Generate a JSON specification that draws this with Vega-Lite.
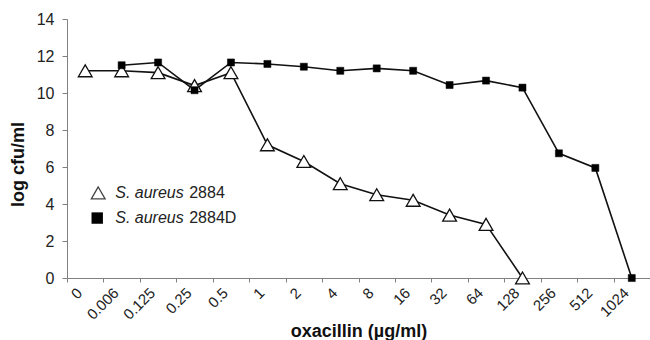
{
  "$schema": "https://vega.github.io/schema/vega-lite/v6.json",
  "autosize": "none",
  "width": 583,
  "height": 259,
  "padding": {"left": 67, "top": 19, "right": 0, "bottom": 62},
  "background": "white",
  "config": {
    "view": {"stroke": null},
    "font": "Liberation Sans",
    "axis": {"domainColor": "#808080", "tickColor": "#808080", "labelColor": "#222", "titleColor": "#111", "grid": false, "labelFont": "Liberation Sans", "titleFont": "Liberation Sans"}
  },
  "datasets": {
    "main": [
      {"conc": "0", "strain": "S. aureus 2884", "v": 11.2},
      {"conc": "0.006", "strain": "S. aureus 2884", "v": 11.2},
      {"conc": "0.125", "strain": "S. aureus 2884", "v": 11.1},
      {"conc": "0.25", "strain": "S. aureus 2884", "v": 10.4},
      {"conc": "0.5", "strain": "S. aureus 2884", "v": 11.1},
      {"conc": "1", "strain": "S. aureus 2884", "v": 7.2},
      {"conc": "2", "strain": "S. aureus 2884", "v": 6.3},
      {"conc": "4", "strain": "S. aureus 2884", "v": 5.1},
      {"conc": "8", "strain": "S. aureus 2884", "v": 4.5},
      {"conc": "16", "strain": "S. aureus 2884", "v": 4.2},
      {"conc": "32", "strain": "S. aureus 2884", "v": 3.4},
      {"conc": "64", "strain": "S. aureus 2884", "v": 2.9},
      {"conc": "128", "strain": "S. aureus 2884", "v": 0},
      {"conc": "0.006", "strain": "S. aureus 2884D", "v": 11.5},
      {"conc": "0.125", "strain": "S. aureus 2884D", "v": 11.65},
      {"conc": "0.25", "strain": "S. aureus 2884D", "v": 10.15},
      {"conc": "0.5", "strain": "S. aureus 2884D", "v": 11.65},
      {"conc": "1", "strain": "S. aureus 2884D", "v": 11.57},
      {"conc": "2", "strain": "S. aureus 2884D", "v": 11.42},
      {"conc": "4", "strain": "S. aureus 2884D", "v": 11.2},
      {"conc": "8", "strain": "S. aureus 2884D", "v": 11.33},
      {"conc": "16", "strain": "S. aureus 2884D", "v": 11.2},
      {"conc": "32", "strain": "S. aureus 2884D", "v": 10.43},
      {"conc": "64", "strain": "S. aureus 2884D", "v": 10.67},
      {"conc": "128", "strain": "S. aureus 2884D", "v": 10.29},
      {"conc": "256", "strain": "S. aureus 2884D", "v": 6.74},
      {"conc": "512", "strain": "S. aureus 2884D", "v": 5.95},
      {"conc": "1024", "strain": "S. aureus 2884D", "v": 0}
    ],
    "legend": [
      {"conc": "0", "v": 4.6, "sym": "tri", "name": "S. aureus", "num": "2884"},
      {"conc": "0", "v": 3.24, "sym": "sq", "name": "S. aureus", "num": "2884D"}
    ]
  },
  "encoding": {
    "x": {
      "field": "conc", "type": "nominal",
      "scale": {"domain": ["0","0.006","0.125","0.25","0.5","1","2","4","8","16","32","64","128","256","512","1024"], "paddingInner": 0, "paddingOuter": 0},
      "axis": {"title": "oxacillin (µg/ml)", "titleFontSize": 18, "titleFontWeight": "bold", "titlePadding": 0, "labelAngle": -45, "labelAlign": "right", "labelBaseline": "middle", "labelFontSize": 15, "labelPadding": 8, "labelOffset": -6, "tickBand": "extent", "tickSize": 4}
    },
    "y": {
      "field": "v", "type": "quantitative",
      "scale": {"domain": [0, 14], "nice": false},
      "axis": {"title": "log cfu/ml", "titleFontSize": 18, "titleFontWeight": "bold", "titleAngle": -90, "titleAlign": "center", "titleBaseline": "middle", "titleX": -49, "titleY": 145, "values": [0,2,4,6,8,10,12,14], "labelFontSize": 16, "tickSize": 5, "labelPadding": 8}
    }
  },
  "layer": [
    {
      "data": {"name": "main"},
      "mark": {"type": "line", "color": "#111", "strokeWidth": 1.6},
      "encoding": {"detail": {"field": "strain"}}
    },
    {
      "data": {"name": "main"},
      "transform": [{"filter": "datum.strain === 'S. aureus 2884'"}],
      "mark": {"type": "point", "shape": "triangle-up", "filled": true, "fill": "white", "stroke": "#111", "strokeWidth": 1.3, "size": 190, "opacity": 1}
    },
    {
      "data": {"name": "main"},
      "transform": [{"filter": "datum.strain === 'S. aureus 2884D'"}],
      "mark": {"type": "point", "shape": "square", "filled": true, "fill": "#000", "stroke": "#000", "strokeWidth": 0.5, "size": 50, "opacity": 1}
    },
    {
      "data": {"name": "legend"},
      "transform": [{"filter": "datum.sym === 'tri'"}],
      "mark": {"type": "point", "shape": "triangle-up", "filled": true, "fill": "white", "stroke": "#444", "strokeWidth": 1.3, "size": 190, "opacity": 1, "xOffset": 13}
    },
    {
      "data": {"name": "legend"},
      "transform": [{"filter": "datum.sym === 'sq'"}],
      "mark": {"type": "point", "shape": "square", "filled": true, "fill": "#000", "size": 130, "opacity": 1, "xOffset": 12}
    },
    {
      "data": {"name": "legend"},
      "mark": {"type": "text", "align": "left", "baseline": "middle", "fontStyle": "italic", "fontSize": 16, "color": "#222", "dx": 30},
      "encoding": {"text": {"field": "name"}}
    },
    {
      "data": {"name": "legend"},
      "mark": {"type": "text", "align": "left", "baseline": "middle", "fontSize": 16, "color": "#222", "dx": 104},
      "encoding": {"text": {"field": "num"}}
    }
  ]
}
